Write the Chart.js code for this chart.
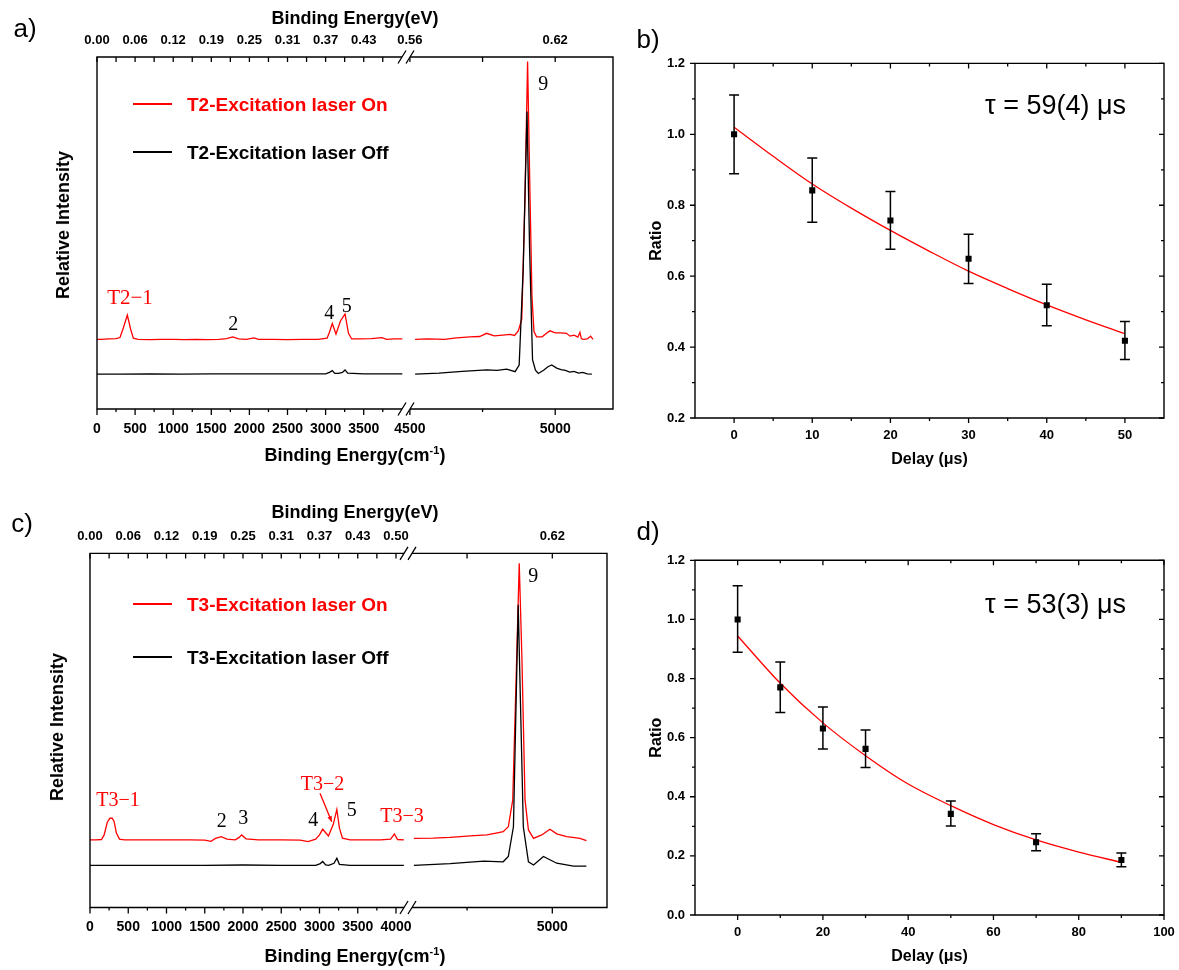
<!DOCTYPE html>
<html><head><meta charset="utf-8">
<script src="https://cdn.jsdelivr.net/npm/chart.js@4.4.1/dist/chart.umd.min.js"></script>
<style>
html,body{margin:0;padding:0;background:#fff;overflow:hidden;}
body{width:1179px;height:970px;position:relative;font-family:"Liberation Sans",Arial,sans-serif;}
canvas{position:absolute;}
.t{position:absolute;white-space:nowrap;line-height:1;color:#000;}
.c{transform:translate(-50%,-50%);}
.l{transform:translate(0,-50%);}
.rot{transform:translate(-50%,-50%) rotate(-90deg);}
.b{font-weight:bold;}
.s{font-family:"Liberation Serif","Times New Roman",serif;}
.red{color:#ff0000;}
.leg{position:absolute;height:0;border-top:2px solid;}
sup{font-size:11px;vertical-align:7px;line-height:0;}
</style></head><body>
<script>
// ================= DATA =================
// Panel a (T2): binding energy (cm^-1) vs relative intensity (arb. units)
const aOnLow  = [[0,19.8],[60,19.8],[150,19.9],[250,20.0],[302,20.3],[345,23.0],[398,26.7],[440,22.8],[477,20.1],[540,19.8],[700,19.7],[850,19.8],[1000,19.8],[1150,19.7],[1300,19.8],[1450,19.7],[1600,19.8],[1700,20.0],[1781,20.5],[1860,19.9],[1960,19.8],[2060,20.2],[2120,19.8],[2300,19.8],[2500,19.7],[2700,19.8],[2900,19.8],[3020,20.1],[3050,21.8],[3088,24.3],[3136,21.3],[3195,25.0],[3255,27.0],[3300,21.5],[3342,19.9],[3450,19.9],[3600,20.0],[3740,20.3],[3800,19.8],[3900,19.9],[4007,19.9]];
const aOnHigh = [[4518,19.8],[4560,19.9],[4620,19.8],[4660,20.2],[4707,20.5],[4740,20.6],[4764,21.5],[4790,20.8],[4820,21.0],[4844,21.2],[4860,20.9],[4873,22.2],[4885,25.5],[4896,60],[4905,98.7],[4913,62],[4920,32],[4927,22],[4936,20.5],[4955,20.5],[4970,21.5],[4982,22.2],[5000,21.6],[5020,21.6],[5039,21.5],[5051,20.7],[5065,21.0],[5078,20.4],[5085,21.8],[5090,20.0],[5097,19.8],[5110,19.9],[5122,20.7],[5130,19.8]];
const aOffLow  = [[0,9.9],[300,9.9],[700,10.0],[1100,9.9],[1500,10.0],[1900,10.0],[2300,10.0],[2700,10.0],[3000,10.0],[3050,10.4],[3088,10.9],[3120,10.1],[3170,10.1],[3220,10.4],[3255,11.1],[3290,10.2],[3500,10.0],[3800,10.0],[4007,10.0]];
const aOffHigh = [[4518,9.9],[4600,10.2],[4680,10.7],[4764,11.1],[4800,11.0],[4833,11.3],[4862,10.6],[4876,12.5],[4890,40],[4903,84.5],[4912,45],[4922,14],[4932,11.0],[4942,10.1],[4960,11.0],[4975,12.0],[4988,12.5],[5005,11.6],[5020,11.2],[5035,11.0],[5050,10.5],[5065,10.7],[5080,10.2],[5095,10.4],[5110,10.0],[5126,9.9]];
const aTicksLow  = [0,500,1000,1500,2000,2500,3000,3500];
const aMinorLow  = [250,750,1250,1750,2250,2750,3250,3750];
const aTicksHigh = [4500,5000];
const aMinorHigh = [4750];
const aEvLow  = ['0.00','0.06','0.12','0.19','0.25','0.31','0.37','0.43'];
const aEvHigh = ['0.56','0.62'];

// Panel c (T3)
const cOnLow  = [[0,19.1],[80,19.1],[150,19.2],[185,20.5],[225,24.0],[260,25.2],[290,25.2],[315,24.3],[345,21.0],[385,19.3],[450,19.1],[700,19.1],[1000,19.1],[1300,19.1],[1500,19.0],[1580,18.7],[1640,19.5],[1716,20.0],[1790,19.3],[1900,19.1],[1950,19.8],[1982,20.5],[2040,19.4],[2200,19.1],[2500,19.1],[2750,19.0],[2850,18.6],[2950,19.3],[3000,20.5],[3042,22.1],[3117,20.2],[3180,23.5],[3227,27.7],[3260,22.5],[3300,19.6],[3400,19.1],[3600,19.1],[3800,19.1],[3930,19.3],[3979,20.8],[4020,19.2],[4103,19.1]];
const cOnHigh = [[4594,19.5],[4650,19.6],[4700,19.8],[4760,20.2],[4808,20.5],[4835,21.0],[4856,21.4],[4871,22.8],[4884,30.4],[4894,65],[4903,97.2],[4911,70],[4920,30.4],[4930,21.9],[4945,19.5],[4969,20.5],[4993,22.1],[5013,20.8],[5042,20.0],[5060,19.8],[5081,19.5],[5100,18.9]];
const cOffLow  = [[0,11.9],[500,11.9],[1000,11.9],[1500,11.9],[2000,12.0],[2500,11.9],[2950,11.9],[3010,12.4],[3042,13.0],[3080,12.0],[3120,11.9],[3190,12.5],[3227,13.9],[3260,12.2],[3400,11.9],[3800,11.9],[4103,11.9]];
const cOffHigh = [[4594,11.9],[4700,12.4],[4799,13.1],[4856,12.9],[4871,14.4],[4886,22.8],[4900,85.5],[4915,22.8],[4930,12.9],[4945,12.0],[4974,14.4],[5013,12.5],[5062,11.7],[5100,11.7]];
const cTicksLow  = [0,500,1000,1500,2000,2500,3000,3500,4000];
const cMinorLow  = [250,750,1250,1750,2250,2750,3250,3750];
const cTicksHigh = [5000];
const cMinorHigh = [4750];
const cEvLow  = ['0.00','0.06','0.12','0.19','0.25','0.31','0.37','0.43','0.50'];
const cEvHigh = ['0.62'];

// Panel b: ratio vs delay (T2)
const bDelay   = [0,10,20,30,40,50];
const bRatio   = [1.000,0.842,0.757,0.649,0.518,0.418];
const bErrLow  = [0.889,0.752,0.676,0.579,0.460,0.365];
const bErrHigh = [1.111,0.933,0.839,0.718,0.577,0.472];
const bFitX = [0,5,10,15,20,25,30,35,40,45,50];
const bFitY = [1.020,0.938,0.860,0.792,0.729,0.670,0.614,0.565,0.519,0.477,0.438];
const bXTicks = [0,10,20,30,40,50], bXMinor = [5,15,25,35,45];
const bYTicks = [0.2,0.4,0.6,0.8,1.0,1.2], bYMinor = [0.3,0.5,0.7,0.9,1.1];

// Panel d: ratio vs delay (T3)
const dDelay   = [0,10,20,30,50,70,90];
const dRatio   = [1.000,0.770,0.631,0.562,0.342,0.246,0.186];
const dErrLow  = [0.889,0.685,0.562,0.499,0.301,0.217,0.163];
const dErrHigh = [1.114,0.856,0.704,0.626,0.386,0.275,0.210];
const dFitX = [0,10,20,30,40,50,60,70,80,90];
const dFitY = [0.944,0.784,0.650,0.539,0.443,0.370,0.306,0.254,0.213,0.178];
const dXTicks = [0,20,40,60,80,100], dXMinor = [10,30,50,70,90];
const dYTicks = [0,0.2,0.4,0.6,0.8,1.0,1.2], dYMinor = [0.1,0.3,0.5,0.7,0.9,1.1];

// ================= RENDERING =================
const FONT = '"Liberation Sans", Arial, sans-serif';
Chart.defaults.font.family = FONT;
Chart.defaults.color = '#000';
Chart.defaults.animation = false;

function addCanvas(x, y, w, h) {
  const c = document.createElement('canvas');
  c.width = w; c.height = h;
  Object.assign(c.style, {left: x + 'px', top: y + 'px', width: w + 'px', height: h + 'px'});
  document.body.appendChild(c);
  return c;
}
const xy = arr => arr.map(p => ({x: p[0], y: p[1]}));

function framePlugin(cfg) {
  return {
    id: 'frame',
    afterDatasetsDraw(chart) {
      const ctx = chart.ctx, a = chart.chartArea;
      ctx.save();
      ctx.strokeStyle = '#000';
      ctx.lineWidth = 1.4;
      ctx.lineCap = 'square';
      ctx.beginPath();
      const s = cfg.sides;
      if (s.includes('top'))    { ctx.moveTo(a.left, a.top);    ctx.lineTo(a.right, a.top); }
      if (s.includes('bottom')) { ctx.moveTo(a.left, a.bottom); ctx.lineTo(a.right, a.bottom); }
      if (s.includes('left'))   { ctx.moveTo(a.left, a.top);    ctx.lineTo(a.left, a.bottom); }
      if (s.includes('right'))  { ctx.moveTo(a.right, a.top);   ctx.lineTo(a.right, a.bottom); }
      ctx.stroke();
      ctx.lineCap = 'butt';
      ctx.lineWidth = 1.3;
      ctx.beginPath();
      for (const t of cfg.ticks) {
        const sc = chart.scales[t.scale];
        for (const v of t.values) {
          const p = sc.getPixelForValue(v);
          const L = t.out ? t.len : -t.len;
          if (t.edge === 'bottom') { ctx.moveTo(p, a.bottom); ctx.lineTo(p, a.bottom + L); }
          if (t.edge === 'top')    { ctx.moveTo(p, a.top);    ctx.lineTo(p, a.top - L); }
          if (t.edge === 'left')   { ctx.moveTo(a.left, p);   ctx.lineTo(a.left - L, p); }
          if (t.edge === 'right')  { ctx.moveTo(a.right, p);  ctx.lineTo(a.right + L, p); }
        }
      }
      ctx.stroke();
      if (cfg.brk) {
        const bx = a.left;
        ctx.fillStyle = '#fff';
        for (const y of [a.top, a.bottom]) ctx.fillRect(bx - 4, y - 1.6, 8, 3.2);
        ctx.beginPath();
        for (const y of [a.top, a.bottom]) for (const dx of [-4, 4]) {
          ctx.moveTo(bx + dx - 4, y + 6.5); ctx.lineTo(bx + dx + 4, y - 6.5);
        }
        ctx.lineWidth = 1.3;
        ctx.stroke();
      }
      ctx.restore();
    }
  };
}

function errPlugin(xs, lo, hi) {
  return {
    id: 'err',
    afterDatasetsDraw(chart) {
      const ctx = chart.ctx, sx = chart.scales.x, sy = chart.scales.y;
      ctx.save();
      ctx.strokeStyle = '#000'; ctx.lineWidth = 1.5;
      ctx.beginPath();
      xs.forEach((xv, i) => {
        const px = sx.getPixelForValue(xv), y1 = sy.getPixelForValue(lo[i]), y2 = sy.getPixelForValue(hi[i]);
        ctx.moveTo(px, y1); ctx.lineTo(px, y2);
        ctx.moveTo(px - 5, y1); ctx.lineTo(px + 5, y1);
        ctx.moveTo(px - 5, y2); ctx.lineTo(px + 5, y2);
      });
      ctx.stroke();
      ctx.restore();
    }
  };
}

// Half of a broken-axis spectrum panel
function spectrumHalf(o) {
  const cv = addCanvas(o.cx, o.cy, o.cw, o.ch);
  const A = o.area;
  const botH = o.cy + o.ch - A.b, topH = A.t - o.cy;
  const fixedTicks = vals => (s => { s.ticks = vals.map(v => ({value: v})); });
  return new Chart(cv, {
    type: 'line',
    data: {datasets: [
      {data: xy(o.off), borderColor: '#000', borderWidth: 1.3, pointRadius: 0, tension: 0},
      {data: xy(o.on), borderColor: '#ff0000', borderWidth: 1.3, pointRadius: 0, tension: 0}
    ]},
    options: {
      responsive: false, animation: false, events: [],
      layout: {padding: {left: A.l - o.cx, right: o.cx + o.cw - A.r, top: 0, bottom: 0}},
      plugins: {legend: {display: false}, tooltip: {enabled: false}},
      scales: {
        x: {type: 'linear', position: 'bottom', min: o.xmin, max: o.xmax,
            afterBuildTicks: fixedTicks(o.ticks), afterFit: s => { s.height = botH; },
            grid: {display: false, drawTicks: false}, border: {display: false},
            ticks: {padding: o.botPad, autoSkip: false, maxRotation: 0, font: {size: 14, weight: 'bold'},
                    callback: v => String(v)}},
        x2: {type: 'linear', position: 'top', min: o.xmin, max: o.xmax,
            afterBuildTicks: fixedTicks(o.ticks), afterFit: s => { s.height = topH; },
            grid: {display: false, drawTicks: false}, border: {display: false},
            ticks: {padding: o.topPad, autoSkip: false, maxRotation: 0, font: {size: 13, weight: 'bold'},
                    callback: (v, i) => o.ev[i]}},
        y: {display: false, min: 0, max: 100}
      }
    },
    plugins: [framePlugin({
      sides: o.sides, brk: o.brk,
      ticks: [
        {scale: 'x', edge: 'bottom', out: true, len: 6, values: o.ticks},
        {scale: 'x', edge: 'bottom', out: true, len: 3, values: o.minor},
        {scale: 'x2', edge: 'top', out: false, len: 5, values: o.ticks.concat(o.minor)}
      ]
    })]
  });
}

function decayChart(o) {
  const cv = addCanvas(o.cx, o.cy, o.cw, o.ch);
  const A = o.area;
  const fixedTicks = vals => (s => { s.ticks = vals.map(v => ({value: v})); });
  return new Chart(cv, {
    type: 'scatter',
    data: {datasets: [
      {type: 'scatter', data: o.x.map((x, i) => ({x, y: o.y[i]})), pointStyle: 'rect', pointRadius: 4.3,
       backgroundColor: '#000', borderColor: '#000', borderWidth: 0},
      {type: 'line', data: o.fx.map((x, i) => ({x, y: o.fy[i]})), borderColor: '#ff0000', borderWidth: 1.3,
       pointRadius: 0, cubicInterpolationMode: 'monotone', fill: false}
    ]},
    options: {
      responsive: false, animation: false, events: [],
      layout: {padding: {left: 0, right: o.cx + o.cw - A.r, top: A.t - o.cy, bottom: 0}},
      plugins: {legend: {display: false}, tooltip: {enabled: false}},
      scales: {
        x: {type: 'linear', position: 'bottom', min: o.xmin, max: o.xmax,
            afterBuildTicks: fixedTicks(o.xt), afterFit: s => { s.height = o.cy + o.ch - A.b; },
            grid: {display: false, drawTicks: false}, border: {display: false},
            ticks: {padding: 9.2, autoSkip: false, maxRotation: 0, font: {size: 13, weight: 'bold'}, callback: v => String(v)},
            title: {display: true, text: 'Delay (μs)', font: {size: 16, weight: 'bold'}, padding: {top: 0, bottom: o.xTitlePad}}},
        y: {type: 'linear', position: 'left', min: o.ymin, max: o.ymax,
            afterBuildTicks: fixedTicks(o.yt), afterFit: s => { s.width = A.l - o.cx; },
            grid: {display: false, drawTicks: false}, border: {display: false},
            ticks: {padding: 10, autoSkip: false, font: {size: 13, weight: 'bold'}, callback: v => v.toFixed(1)},
            title: {display: true, text: 'Ratio', font: {size: 16, weight: 'bold'}, padding: {top: 16.5, bottom: 0}}}
      }
    },
    plugins: [errPlugin(o.x, o.lo, o.hi), framePlugin({
      sides: ['left', 'right', 'top', 'bottom'],
      ticks: [
        {scale: 'x', edge: 'bottom', out: true, len: 5, values: o.xt},
        {scale: 'x', edge: 'bottom', out: true, len: 3, values: o.xm},
        {scale: 'x', edge: 'top', out: false, len: 5, values: o.xt},
        {scale: 'x', edge: 'top', out: false, len: 3, values: o.xm},
        {scale: 'y', edge: 'left', out: true, len: 5, values: o.yt},
        {scale: 'y', edge: 'left', out: true, len: 3, values: o.ym},
        {scale: 'y', edge: 'right', out: false, len: 5, values: o.yt},
        {scale: 'y', edge: 'right', out: false, len: 3, values: o.ym}
      ]
    })]
  });
}

// ---- Panel a ----
spectrumHalf({cx: 0, cy: 0, cw: 436, ch: 480, area: {l: 97, t: 57, r: 406, b: 409},
  xmin: 0, xmax: 4055, ticks: aTicksLow, minor: aMinorLow, ev: aEvLow,
  on: aOnLow, off: aOffLow, sides: ['left', 'top', 'bottom'], brk: false, botPad: 12.2, topPad: 8.9});
spectrumHalf({cx: 376, cy: 0, cw: 262, ch: 480, area: {l: 406, t: 57, r: 613, b: 409},
  xmin: 4486.6, xmax: 5198.9, ticks: aTicksHigh, minor: aMinorHigh, ev: aEvHigh,
  on: aOnHigh, off: aOffHigh, sides: ['right', 'top', 'bottom'], brk: true, botPad: 12.2, topPad: 8.9});

// ---- Panel c ----
spectrumHalf({cx: 0, cy: 490, cw: 438, ch: 480, area: {l: 90, t: 553.4, r: 408, b: 907.5},
  xmin: 0, xmax: 4157, ticks: cTicksLow, minor: cMinorLow, ev: cEvLow,
  on: cOnLow, off: cOffLow, sides: ['left', 'top', 'bottom'], brk: false, botPad: 10.9, topPad: 9.4});
spectrumHalf({cx: 378, cy: 490, cw: 260, ch: 480, area: {l: 408, t: 553.4, r: 607, b: 907.5},
  xmin: 4576.8, xmax: 5160.4, ticks: cTicksHigh, minor: cMinorHigh, ev: cEvHigh,
  on: cOnHigh, off: cOffHigh, sides: ['right', 'top', 'bottom'], brk: true, botPad: 10.9, topPad: 9.4});

// ---- Panel b ----
decayChart({cx: 630, cy: 0, cw: 570, ch: 480, area: {l: 695, t: 63.4, r: 1164, b: 418},
  xmin: -5, xmax: 55, ymin: 0.2, ymax: 1.2, xt: bXTicks, xm: bXMinor, yt: bYTicks, ym: bYMinor,
  x: bDelay, y: bRatio, lo: bErrLow, hi: bErrHigh, fx: bFitX, fy: bFitY, xTitlePad: 10.4});
// ---- Panel d ----
decayChart({cx: 630, cy: 490, cw: 570, ch: 480, area: {l: 695, t: 560.3, r: 1164, b: 915},
  xmin: -10, xmax: 100, ymin: 0, ymax: 1.2, xt: dXTicks, xm: dXMinor, yt: dYTicks, ym: dYMinor,
  x: dDelay, y: dRatio, lo: dErrLow, hi: dErrHigh, fx: dFitX, fy: dFitY, xTitlePad: 3.4});

// ---- Text (real DOM text) ----
function txt(html, x, y, cls, size) {
  const d = document.createElement('div');
  d.className = 't ' + cls;
  d.innerHTML = html;
  Object.assign(d.style, {left: x + 'px', top: y + 'px', fontSize: size + 'px'});
  document.body.appendChild(d);
}
function legLine(x1, x2, y, color) {
  const d = document.createElement('div');
  d.className = 'leg';
  Object.assign(d.style, {left: x1 + 'px', top: (y - 1) + 'px', width: (x2 - x1) + 'px', borderColor: color});
  document.body.appendChild(d);
}
// panel a
txt('a)', 25, 28, 'c', 26);
txt('Binding Energy(eV)', 355, 18, 'c b', 18);
txt('Binding Energy(cm<sup>-1</sup>)', 355, 455, 'c b', 18);
txt('Relative Intensity', 63, 225, 'rot b', 18);
legLine(133, 172, 104, '#ff0000');
legLine(133, 172, 151.7, '#000');
txt('T2-Excitation laser On', 187, 104, 'l b red', 19);
txt('T2-Excitation laser Off', 187, 151.7, 'l b', 19);
txt('T2−1', 130, 297, 'c s red', 21);
txt('2', 233.3, 322.7, 'c s', 20);
txt('4', 329.3, 311.7, 'c s', 20);
txt('5', 346.7, 305, 'c s', 20);
txt('9', 543.3, 83.3, 'c s', 20);
// panel b
txt('b)', 648, 39, 'c', 26);
txt('τ = 59(4) μs', 985, 105.4, 'l', 27);
// panel c
txt('c)', 22, 523, 'c', 26);
txt('Binding Energy(eV)', 355, 512, 'c b', 18);
txt('Binding Energy(cm<sup>-1</sup>)', 355, 955.5, 'c b', 18);
txt('Relative Intensity', 57, 727, 'rot b', 18);
legLine(133, 172, 604.3, '#ff0000');
legLine(133, 172, 657.3, '#000');
txt('T3-Excitation laser On', 187, 604.3, 'l b red', 19);
txt('T3-Excitation laser Off', 187, 657.3, 'l b', 19);
txt('T3−1', 118, 799.3, 'c s red', 20);
txt('2', 221.7, 820, 'c s', 20);
txt('3', 243.3, 816.7, 'c s', 20);
txt('4', 313.3, 819, 'c s', 20);
txt('T3−2', 322.5, 782.7, 'c s red', 20);
txt('5', 351.7, 809.3, 'c s', 20);
txt('T3−3', 402, 815, 'c s red', 20);
txt('9', 533.3, 575, 'c s', 20);
// panel d
txt('d)', 648, 531, 'c', 26);
txt('τ = 53(3) μs', 985, 604, 'l', 27);

// arrow from T3-2 label to the peak (page coordinates overlay)
(function () {
  const cv = addCanvas(300, 780, 50, 50);
  const ctx = cv.getContext('2d');
  const x1 = 320 - 300, y1 = 793.3 - 780, x2 = 331.7 - 300, y2 = 821.7 - 780;
  ctx.strokeStyle = '#ff0000'; ctx.fillStyle = '#ff0000'; ctx.lineWidth = 1.3;
  ctx.beginPath(); ctx.moveTo(x1, y1); ctx.lineTo(x2, y2); ctx.stroke();
  const ang = Math.atan2(y2 - y1, x2 - x1), h = 6;
  ctx.beginPath();
  ctx.moveTo(x2, y2);
  ctx.lineTo(x2 - h * Math.cos(ang - 0.4), y2 - h * Math.sin(ang - 0.4));
  ctx.lineTo(x2 - h * Math.cos(ang + 0.4), y2 - h * Math.sin(ang + 0.4));
  ctx.closePath(); ctx.fill();
})();
</script>
</body></html>
